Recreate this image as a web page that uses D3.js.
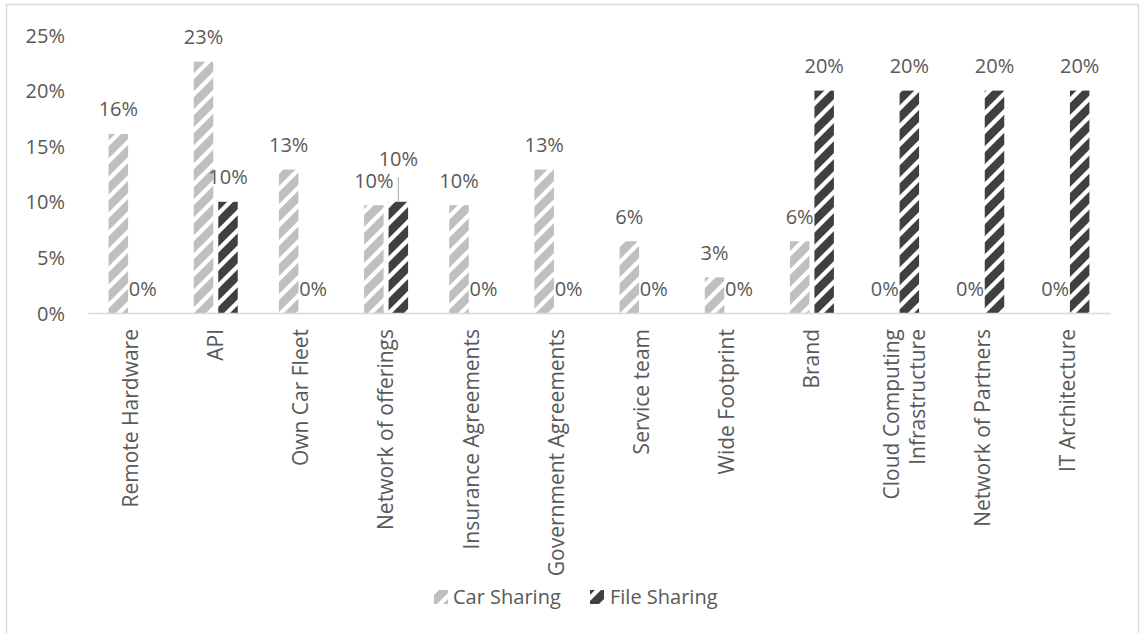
<!DOCTYPE html>
<html>
<head>
<meta charset="utf-8">
<script src="https://cdn.jsdelivr.net/npm/d3@7"></script>
<style>
  html, body { margin: 0; padding: 0; background: #fff; }
  svg { display: block; font-family: "Open Sans", sans-serif; }
</style>
</head>
<body>
<svg id="chart" width="1141" height="633"></svg>
<script>
// ---- data ----
const categories = [
  ["Remote Hardware"], ["API"], ["Own Car Fleet"], ["Network of offerings"],
  ["Insurance Agreements"], ["Government Agreements"], ["Service team"],
  ["Wide Footprint"], ["Brand"], ["Cloud Computing", "Infrastructure"],
  ["Network of Partners"], ["IT Architecture"]
];
const seriesNames = ["Car Sharing", "File Sharing"];
const carSharing  = [0.161, 0.226, 0.129, 0.097, 0.097, 0.129, 0.0645, 0.032, 0.0645, 0, 0, 0];
const fileSharing = [0, 0.10, 0, 0.10, 0, 0, 0, 0, 0.20, 0.20, 0.20, 0.20];
const yTicks = [0, 0.05, 0.10, 0.15, 0.20, 0.25];

// ---- setup ----
const svg = d3.select("#chart");
const textColor = "#595959";
const colors = ["#bfbfbf", "#404040"];

// chart border
svg.append("rect").attr("x", 6.5).attr("y", 4.5).attr("width", 1132).attr("height", 640)
  .attr("fill", "#fff").attr("stroke", "#d9d9d9").attr("stroke-width", 1.5);

// patterns
const defs = svg.append("defs");
colors.forEach((c, i) => {
  const P = 18;
  const pat = defs.append("pattern").attr("id", "pat" + i)
    .attr("patternUnits", "userSpaceOnUse").attr("width", P).attr("height", P);
  pat.append("rect").attr("width", P).attr("height", P).attr("fill", c);
  pat.append("path")
    .attr("d", `M${-P/2},${P/2} L${P/2},${-P/2} M0,${P} L${P},0 M${P/2},${P*1.5} L${P*1.5},${P/2}`)
    .attr("stroke", "#fff").attr("stroke-width", 4.3);
});

const x0 = d3.scaleBand().domain(d3.range(categories.length)).range([88, 1110]).padding(0);
const bw = x0.bandwidth();
const x1 = d3.scaleBand().domain(seriesNames).range([bw / 2 - 22, bw / 2 + 22])
  .paddingInner(5 / 24.5).paddingOuter(0);
const y = d3.scaleLinear().domain([0, 0.25]).range([313, 35]);
const fmt = d3.format(".0%");

// y axis labels
const yAxis = d3.axisLeft(y).tickValues(yTicks).tickFormat(fmt).tickSize(0).tickPadding(0);
const yg = svg.append("g").attr("transform", "translate(65,0)").call(yAxis);
yg.select(".domain").remove();
yg.selectAll("text").attr("fill", textColor).style("font-size", "20px")
  .style("font-family", "'Open Sans', sans-serif").attr("dy", "0.35em");

// bars
const series = [carSharing, fileSharing];
series.forEach((vals, si) => {
  svg.append("g").selectAll("rect").data(vals).join("rect")
    .attr("x", (d, i) => x0(i) + x1(seriesNames[si]))
    .attr("width", x1.bandwidth())
    .attr("y", d => y(d))
    .attr("height", d => y(0) - y(d))
    .attr("fill", `url(#pat${si})`);
});

// x axis baseline
const xAxis = d3.axisBottom(x0).tickSize(0).tickFormat("");
const xg = svg.append("g").attr("transform", `translate(0,${y(0)})`).call(xAxis);
xg.select(".domain").attr("stroke", "#d9d9d9").attr("stroke-width", 1.5);

// data labels
const lift = { "1-3": 18 }; // series-index : category-index label moved up to avoid overlap
series.forEach((vals, si) => {
  vals.forEach((d, i) => {
    const cx = x0(i) + x1(seriesNames[si]) + x1.bandwidth() / 2;
    const extra = lift[si + "-" + i] || 0;
    const cy = y(d) - 24.5 - extra;
    if (extra) {
      svg.append("line").attr("x1", cx).attr("x2", cx)
        .attr("y1", cy + 18).attr("y2", y(d))
        .attr("stroke", "#a6a6a6").attr("stroke-width", 1);
    }
    svg.append("text").attr("x", cx).attr("y", cy).attr("dy", "0.35em")
      .attr("text-anchor", "middle").attr("fill", textColor)
      .style("font-size", "20px").text(fmt(d));
  });
});

// category labels (rotated)
categories.forEach((lines, i) => {
  const cx = x0(i) + bw / 2;
  const lh = 26;
  lines.forEach((ln, li) => {
    const off = lines.length > 1 ? (li - 0.5) * lh + 8 : 0;
    svg.append("text")
      .attr("transform", `translate(${cx + off},329) rotate(-90)`)
      .attr("text-anchor", "end").attr("dy", "0.35em")
      .attr("fill", textColor).style("font-size", "21px").text(ln);
  });
});

// legend
const legendItems = [
  { name: seriesNames[0], sx: 434, tx: 453 },
  { name: seriesNames[1], sx: 590, tx: 610 }
];
legendItems.forEach((it, i) => {
  svg.append("rect").attr("x", it.sx).attr("y", 590).attr("width", 14).attr("height", 14)
    .attr("fill", `url(#pat${i})`);
  svg.append("text").attr("x", it.tx).attr("y", 597).attr("dy", "0.35em")
    .attr("fill", textColor).style("font-size", "20px").text(it.name);
});
</script>
</body>
</html>
